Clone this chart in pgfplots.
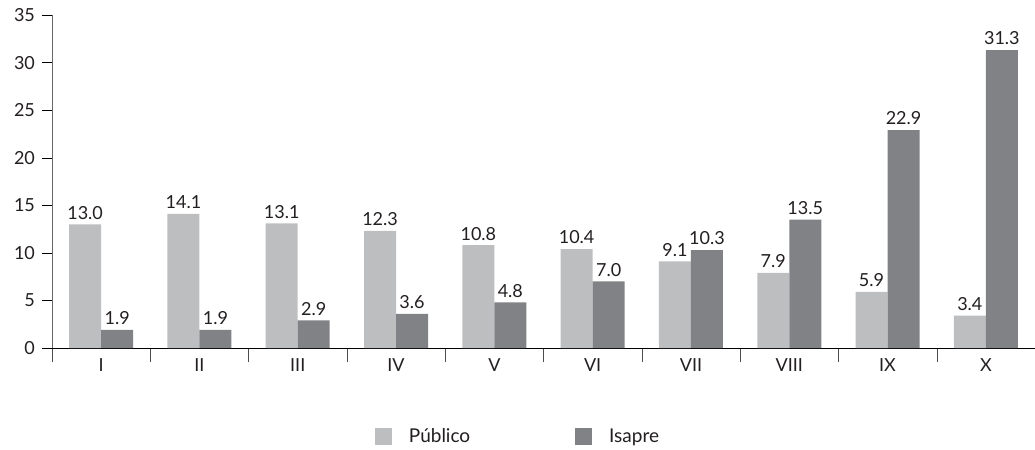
\documentclass[border=0pt]{standalone}
\usepackage{pgfplots}
\pgfplotsset{compat=1.18}
\usepackage{fontspec}
\setmainfont{Lato}

\definecolor{publico}{HTML}{BCBEC0}
\definecolor{isapre}{HTML}{808285}
\definecolor{txt}{HTML}{231F20}

\begin{document}
\begin{tikzpicture}
  % fix the page to the reference proportions (1px = 0.5pt)
  \path[use as bounding box] (-26pt,-51pt) rectangle (491.5pt,174pt);
  \begin{axis}[
    at={(0,0)}, anchor=south west,
    scale only axis,
    width=491.5pt, height=166.5pt,
    font=\fontsize{9}{11}\selectfont\color{txt},
    /pgf/number format/assume math mode=true,
    ybar=0pt, bar width=16pt,
    xmin=0.5, xmax=10.5,
    ymin=0, ymax=35,
    axis lines=left,
    axis line style={-},
    x axis line style={black},
    y axis line style={black!60},
    xtick={1,...,10},
    xticklabels={I,II,III,IV,V,VI,VII,VIII,IX,X},
    major x tick style={draw=none},
    minor xtick={0.5,1.5,...,10.5},
    minor x tick style={black!70},
    xtick align=outside,
    minor tick length=7pt,
    x tick label style={yshift=3pt},
    ytick={0,5,...,35},
    ytick align=outside,
    major tick length=5pt,
    y tick style={black},
    nodes near coords,
    nodes near coords style={/pgf/number format/fixed, /pgf/number format/fixed zerofill, /pgf/number format/precision=1},
    every node near coord/.append style={font=\fontsize{9}{11}\selectfont\color{txt}, yshift=-1pt},
    legend columns=2,
    legend style={draw=none, at={(0.322,-0.267)}, anchor=west,
      /tikz/every odd column/.append style={column sep=6.5pt},
      /tikz/every even column/.append style={column sep=50.5pt},
      font=\fontsize{9.5}{11}\selectfont\color{txt}},
    legend image code/.code={\fill[#1,draw=none] (0pt,-4.25pt) rectangle (8.5pt,4.25pt);},
  ]
  \addplot[fill=publico, draw=none] coordinates {
    (1,13.0) (2,14.1) (3,13.1) (4,12.3) (5,10.8)
    (6,10.4) (7,9.1) (8,7.9) (9,5.9) (10,3.4)
  };
  \addplot[fill=isapre, draw=none] coordinates {
    (1,1.9) (2,1.9) (3,2.9) (4,3.6) (5,4.8)
    (6,7.0) (7,10.3) (8,13.5) (9,22.9) (10,31.3)
  };
  \legend{Público, Isapre}
  \end{axis}
\end{tikzpicture}
\end{document}
